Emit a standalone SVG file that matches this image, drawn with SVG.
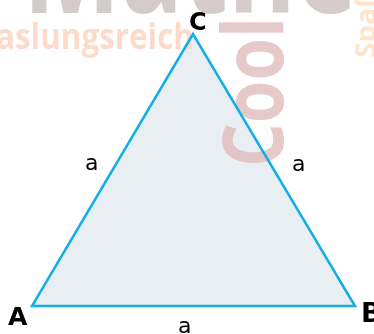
<svg xmlns="http://www.w3.org/2000/svg" width="374" height="334" viewBox="0 0 374 334">
<style>
.wm{font-family:"Open Sans","Liberation Sans",sans-serif;font-weight:bold}
.vx{font-family:"DejaVu Sans",sans-serif;font-weight:bold;fill:#000}
.sd{font-family:"DejaVu Sans",sans-serif;font-size:22px;fill:#000}
</style>
<rect width="374" height="334" fill="#fff"/>
<g id="triangle-fill">
<polygon points="32,306 355,306 193,34" fill="#e9eef2"/>
</g>
<g id="watermark" opacity="0.8">
<text class="wm" x="23" y="13" font-size="140" fill="#cbbfbf" textLength="334" lengthAdjust="spacingAndGlyphs">Mathe</text>
<text class="wm" x="-4" y="49" font-size="36" fill="#fdd3bf" textLength="198" lengthAdjust="spacingAndGlyphs">aslungsreich</text>
<text class="wm" transform="translate(283,167) rotate(-90)" font-size="85" fill="#e0bcbc" textLength="150" lengthAdjust="spacingAndGlyphs">Cool</text>
<text class="wm" transform="translate(376,58) rotate(-90)" font-size="28" fill="#fde0c0">Spaß</text>
</g>
<g id="connectors">
<polygon points="32,306 355,306 193,34" fill="none" stroke="#12aee8" stroke-width="2.5" stroke-linejoin="miter"/>
</g>
<g id="vertex-A"><text class="vx" x="8" y="325" font-size="25">A</text></g>
<g id="vertex-B"><text class="vx" x="361" y="322" font-size="27">B</text></g>
<g id="vertex-C"><text class="vx" x="189" y="30" font-size="24">C</text></g>
<g id="side-left"><text class="sd" x="85" y="170">a</text></g>
<g id="side-right"><text class="sd" x="292" y="171">a</text></g>
<g id="side-bottom"><text class="sd" x="178" y="333">a</text></g>
</svg>
